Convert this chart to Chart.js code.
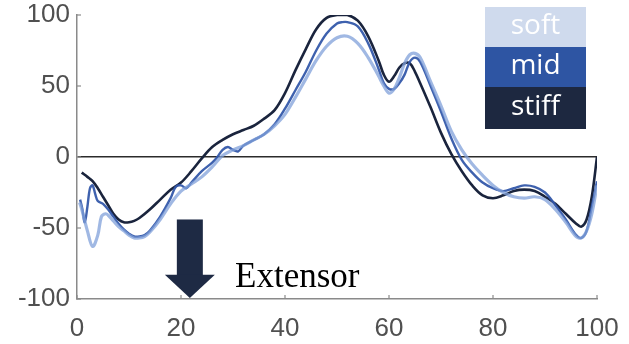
<!DOCTYPE html>
<html>
<head>
<meta charset="utf-8">
<script src="https://cdn.jsdelivr.net/npm/chart.js@4/dist/chart.umd.min.js"></script>
<style>
html,body{margin:0;padding:0;background:#fff;}
#wrap{width:629px;height:344px;position:relative;}
</style>
</head>
<body>
<div id="wrap"><canvas id="c" width="629" height="344"></canvas></div>
<script>
// ---- data ----
const xTicks = [0, 20, 40, 60, 80, 100];
const yTicks = [-100, -50, 0, 50, 100];
const seriesNames = ['soft', 'mid', 'stiff'];

const softX = [0.5, 1, 2, 3, 4, 4.7, 5.5, 6, 7, 8, 9, 10, 11, 12, 13, 14, 16, 18, 20, 22, 24, 26, 28, 30, 32, 34, 36, 38, 40, 42, 44, 46, 48, 50, 52, 54, 56, 58, 59, 60, 61, 62, 63, 64, 65, 66, 68, 70, 72, 74, 76, 78, 80, 82, 84, 86, 88, 90, 92, 94, 96, 97, 98, 99, 100];
const softY = [-32, -38, -52, -63, -55, -42, -40, -41, -45, -49, -52, -55, -57, -57, -56, -53, -44, -33, -24, -19, -14, -7, 1, 5, 8, 12, 16, 22, 30, 42, 55, 68, 78, 84, 85, 80, 70, 57, 50, 45, 48, 56, 66, 72, 73, 70, 53, 36, 18, 5, -5, -13, -20, -25, -28, -29, -28, -30, -37, -46, -56, -57, -52, -40, -20];

const midX = [0.6, 1, 1.5, 2, 2.5, 3, 3.5, 4, 5, 6, 7, 8, 9, 10, 11, 12, 13, 14, 16, 18, 19, 20, 21, 22, 24, 26, 27, 28, 29, 30, 31, 32, 34, 36, 38, 40, 42, 44, 46, 48, 50, 51, 52, 54, 56, 58, 59, 60, 61, 62, 63, 64, 65, 66, 68, 70, 72, 74, 76, 78, 80, 82, 84, 86, 88, 90, 92, 94, 96, 97, 98, 99, 100];
const midY = [-30, -36, -46, -35, -22, -20, -26, -31, -33, -37, -42, -47, -51, -54, -56, -56, -55, -52, -42, -29, -21, -20, -22, -18, -10, -4, 0, 5, 7, 5, 4, 8, 12, 16, 23, 34, 47, 60, 75, 87, 94, 95, 95, 92, 80, 62, 52, 48, 48, 52, 58, 67, 70, 67, 50, 32, 13, -2, -11, -18, -22, -24, -22, -20, -21, -25, -34, -44, -55, -57, -52, -35, -17];

const stiffX = [0.9, 2, 3, 4, 5, 6, 7, 8, 9, 10, 11, 12, 14, 16, 18, 20, 22, 24, 26, 28, 30, 32, 34, 36, 38, 40, 42, 44, 46, 48, 50, 52, 54, 56, 58, 59, 60, 61, 62, 63, 64, 65, 66, 68, 70, 72, 74, 76, 78, 80, 82, 84, 86, 88, 90, 92, 94, 96, 97, 98, 99, 100];
const stiffY = [-11, -14, -17, -22, -28, -34, -40, -44, -46, -46, -45, -43, -37, -30, -23, -18, -10, -1, 7, 12, 16, 19, 22, 27, 33, 45, 61, 76, 90, 98, 100, 100, 96, 85, 68, 58, 53, 57, 63, 66, 66, 60, 52, 35, 17, 2, -10, -20, -27, -29, -27, -24, -23, -24, -28, -33, -40, -47, -49, -44, -28, 0];

const arrowX = 21.7, arrowTopY = -44, arrowHeadY = -83;
const annotationText = 'Extensor';
const annotationX = 30.4, annotationY = -91.5;

// ---- helpers ----
const toPts = (xs, ys) => xs.map((x, i) => ({x: x, y: ys[i]}));
const colors = {soft: 'rgba(128,160,218,0.75)', mid: 'rgba(52,88,170,0.95)', stiff: '#1a243d'};
const legendBg = {soft: '#cfdaed', mid: '#2e55a3', stiff: '#1d2840'};

const overlay = {
  id: 'overlay',
  afterDraw(chart) {
    const ctx = chart.ctx, xs = chart.scales.x, ys = chart.scales.y, ca = chart.chartArea;
    ctx.save();
    // inward tick marks
    ctx.strokeStyle = '#8a8a8a'; ctx.lineWidth = 1.2;
    xTicks.forEach(v => { const px = xs.getPixelForValue(v); ctx.beginPath(); ctx.moveTo(px, ca.bottom); ctx.lineTo(px, ca.bottom - 4); ctx.stroke(); });
    yTicks.forEach(v => { const py = ys.getPixelForValue(v); ctx.beginPath(); ctx.moveTo(ca.left, py); ctx.lineTo(ca.left + 4, py); ctx.stroke(); });
    // arrow
    const ax = xs.getPixelForValue(arrowX);
    const at = ys.getPixelForValue(arrowTopY), ah = ys.getPixelForValue(arrowHeadY), tip = ys.getPixelForValue(-100) - 1;
    ctx.fillStyle = '#1e2a44';
    ctx.fillRect(ax - 13, at, 26, ah - at + 1);
    ctx.beginPath(); ctx.moveTo(ax - 25, ah); ctx.lineTo(ax + 25, ah); ctx.lineTo(ax, tip); ctx.closePath(); ctx.fill();
    // annotation text
    ctx.fillStyle = '#000';
    ctx.font = '35px "Liberation Serif", serif';
    ctx.textAlign = 'left'; ctx.textBaseline = 'alphabetic';
    ctx.fillText(annotationText, xs.getPixelForValue(annotationX), ys.getPixelForValue(annotationY));
    // legend boxes
    const bx = ca.right - 112, bw = 101, top = ca.top - 8, rh = [40, 40, 42];
    let y = top;
    ctx.font = '28px "Open Sans", sans-serif';
    ctx.textAlign = 'center'; ctx.textBaseline = 'middle';
    seriesNames.forEach((n, i) => {
      ctx.fillStyle = legendBg[n];
      ctx.fillRect(bx, y, bw, rh[i]);
      ctx.fillStyle = '#ffffff';
      ctx.fillText(n, bx + bw / 2, y + rh[i] / 2 - 1);
      y += rh[i];
    });
    ctx.restore();
  }
};

new Chart(document.getElementById('c'), {
  type: 'line',
  data: {
    datasets: [
      {label: 'soft', data: toPts(softX, softY), borderColor: colors.soft, borderWidth: 3.2, pointRadius: 0, tension: 0.35, fill: false},
      {label: 'mid', data: toPts(midX, midY), borderColor: colors.mid, borderWidth: 2.4, pointRadius: 0, tension: 0.35, fill: false},
      {label: 'stiff', data: toPts(stiffX, stiffY), borderColor: colors.stiff, borderWidth: 2.6, pointRadius: 0, tension: 0.35, fill: false}
    ]
  },
  options: {
    responsive: false,
    animation: false,
    layout: {padding: {top: 15, right: 32, left: 0, bottom: 0}},
    plugins: {legend: {display: false}, tooltip: {enabled: false}},
    scales: {
      x: {
        type: 'linear', min: 0, max: 100,
        afterBuildTicks: s => { s.ticks = xTicks.map(v => ({value: v})); },
        afterFit: s => { s.height = 45; s.paddingLeft = 0; s.paddingRight = 0; },
        border: {display: true, color: '#8a8a8a', width: 1.5},
        grid: {display: false},
        ticks: {color: '#505050', font: {size: 26, family: '"Liberation Sans", Arial, sans-serif'}, padding: 6, maxRotation: 0}
      },
      y: {
        type: 'linear', min: -100, max: 100,
        afterBuildTicks: s => { s.ticks = yTicks.map(v => ({value: v})); },
        afterFit: s => { s.width = 77; s.paddingTop = 0; s.paddingBottom = 0; },
        border: {display: true, color: '#8a8a8a', width: 1.5},
        grid: {drawTicks: false, lineWidth: 1.6, color: c => (c.tick && c.tick.value === 0) ? '#2b2b2b' : 'rgba(0,0,0,0)'},
        ticks: {color: '#505050', font: {size: 26, family: '"Liberation Sans", Arial, sans-serif'}, padding: 7}
      }
    }
  },
  plugins: [overlay]
});
</script>
</body>
</html>
